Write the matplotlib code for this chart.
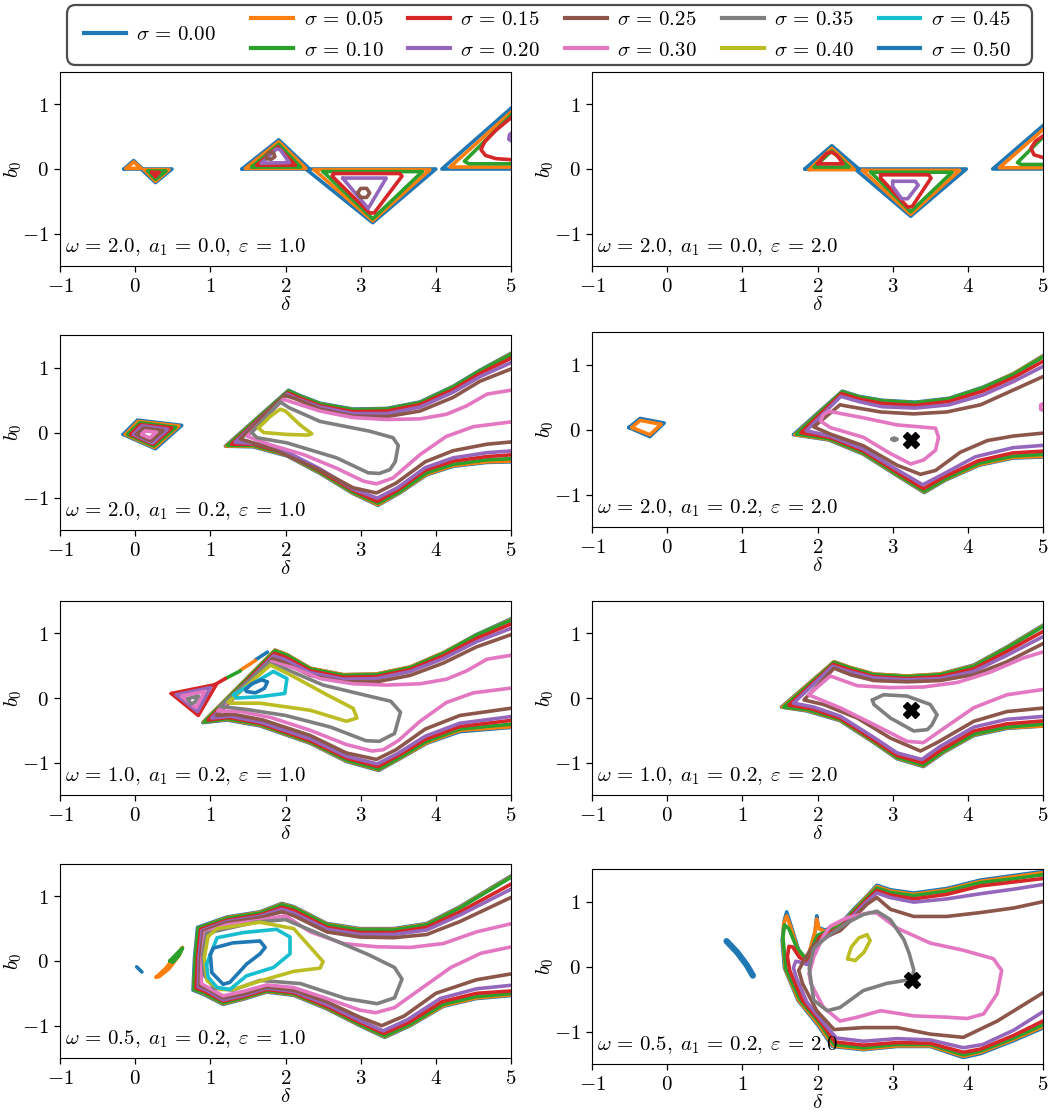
import matplotlib
matplotlib.use('Agg')
import matplotlib.pyplot as plt
from matplotlib.patches import FancyBboxPatch
from matplotlib.lines import Line2D

plt.rcParams['mathtext.fontset'] = 'cm'
plt.rcParams['font.family'] = ['DejaVu Serif']

# ---------------- data ----------------
sigmas = [0.00, 0.05, 0.10, 0.15, 0.20, 0.25, 0.30, 0.35, 0.40, 0.45, 0.50]
sigma_colors = ['#1f77b4', '#ff7f0e', '#2ca02c', '#d62728', '#9467bd', '#8c564b',
                '#e377c2', '#7f7f7f', '#bcbd22', '#17becf', '#1f77b4']
sigma_labels = [r'$\sigma\,=\,%.2f$' % s for s in sigmas]

panel_labels = [
    r'$\omega\,=\,2.0,\;a_1\,=\,0.0,\;\varepsilon\,=\,1.0$',
    r'$\omega\,=\,2.0,\;a_1\,=\,0.0,\;\varepsilon\,=\,2.0$',
    r'$\omega\,=\,2.0,\;a_1\,=\,0.2,\;\varepsilon\,=\,1.0$',
    r'$\omega\,=\,2.0,\;a_1\,=\,0.2,\;\varepsilon\,=\,2.0$',
    r'$\omega\,=\,1.0,\;a_1\,=\,0.2,\;\varepsilon\,=\,1.0$',
    r'$\omega\,=\,1.0,\;a_1\,=\,0.2,\;\varepsilon\,=\,2.0$',
    r'$\omega\,=\,0.5,\;a_1\,=\,0.2,\;\varepsilon\,=\,1.0$',
    r'$\omega\,=\,0.5,\;a_1\,=\,0.2,\;\varepsilon\,=\,2.0$',
]
x_ticks = [-1, 0, 1, 2, 3, 4, 5]
y_ticks = [-1, 0, 1]

# fixed points (black crosses) per panel
fixed_points = [[], [], [], [(3.25, -0.16)], [], [(3.24, -0.19)], [], [(3.26, -0.20)]]

# thick separate blue streak in last panel
streak_r4c2 = [(0.79, 0.39), (0.93, 0.22), (1.06, 0.02), (1.14, -0.14)]

r1c1 = {
    0.00: [[(-0.15, 0.0), (-0.02, 0.13), (0.10, 0.0), (-0.15, 0.0)],
           [(0.08, 0.0), (0.49, 0.0), (0.27, -0.21), (0.08, 0.0)],
           [(1.42, 0.0), (1.91, 0.45), (2.32, 0.0), (1.42, 0.0)],
           [(2.27, 0.0), (4.00, 0.0), (3.16, -0.83), (2.27, 0.0)],
           [(5.05, 0.0), (4.08, 0.0), (5.05, 0.99)]],
    0.05: [[(-0.12, 0.01), (-0.02, 0.11), (0.08, 0.01), (-0.12, 0.01)],
           [(0.12, -0.01), (0.45, -0.01), (0.27, -0.19), (0.12, -0.01)],
           [(1.47, 0.01), (1.91, 0.42), (2.27, 0.01), (1.47, 0.01)],
           [(2.38, -0.01), (3.92, -0.01), (3.16, -0.80), (2.38, -0.01)],
           [(5.05, 0.03), (4.19, 0.03), (5.05, 0.93)]],
    0.10: [[(0.17, -0.03), (0.41, -0.03), (0.27, -0.16), (0.17, -0.03)],
           [(1.55, 0.03), (1.91, 0.38), (2.20, 0.03), (1.55, 0.03)],
           [(2.50, -0.04), (3.82, -0.04), (3.16, -0.77), (2.50, -0.04)],
           [(5.05, 0.08), (4.44, 0.08), (4.38, 0.12), (5.05, 0.89)]],
    0.15: [[(0.22, -0.05), (0.32, -0.05), (0.27, -0.12), (0.22, -0.05)],
           [(1.62, 0.06), (1.90, 0.34), (2.13, 0.06), (1.62, 0.06)],
           [(2.64, -0.07), (3.52, -0.07), (3.55, -0.11), (3.18, -0.68), (3.12, -0.68),
            (2.62, -0.11), (2.64, -0.07)],
           [(5.05, 0.84), (4.80, 0.60), (4.65, 0.42), (4.60, 0.30), (4.66, 0.21),
            (4.80, 0.16), (5.05, 0.14)]],
    0.20: [[(1.68, 0.09), (1.88, 0.31), (1.93, 0.30), (2.05, 0.10), (1.68, 0.09)],
           [(2.76, -0.14), (3.34, -0.14), (3.10, -0.61), (2.76, -0.14)],
           [(5.05, 0.60), (4.98, 0.53), (4.97, 0.46), (5.05, 0.40)]],
    0.25: [[(1.74, 0.20), (1.78, 0.26), (1.84, 0.25), (1.86, 0.19), (1.81, 0.15),
            (1.75, 0.16), (1.74, 0.20)],
           [(2.96, -0.37), (3.00, -0.30), (3.08, -0.30), (3.12, -0.37), (3.08, -0.44),
            (3.00, -0.44), (2.96, -0.37)]],
}

r1c2 = {
    0.00: [[(1.83, 0.0), (2.19, 0.36), (2.55, 0.0), (1.83, 0.0)],
           [(2.50, 0.0), (3.98, 0.0), (3.24, -0.73), (2.50, 0.0)],
           [(5.05, 0.0), (4.33, 0.0), (5.05, 0.72)]],
    0.05: [[(1.89, -0.01), (2.19, 0.32), (2.49, -0.01), (1.89, -0.01)],
           [(2.60, -0.02), (3.89, -0.02), (3.24, -0.70), (2.60, -0.02)],
           [(5.05, 0.02), (4.42, 0.02), (5.05, 0.66)]],
    0.10: [[(1.96, 0.03), (2.19, 0.28), (2.42, 0.03), (1.96, 0.03)],
           [(2.71, -0.05), (3.79, -0.05), (3.24, -0.66), (2.71, -0.05)],
           [(5.05, 0.07), (4.71, 0.07), (4.66, 0.10), (5.05, 0.55)]],
    0.15: [[(2.00, 0.08), (2.12, 0.24), (2.19, 0.26), (2.26, 0.21), (2.34, 0.08), (2.00, 0.08)],
           [(2.84, -0.09), (3.48, -0.09), (3.51, -0.14), (3.26, -0.58), (3.20, -0.59),
            (2.84, -0.14), (2.84, -0.09)],
           [(5.05, 0.55), (4.90, 0.43), (4.84, 0.32), (4.88, 0.22), (5.05, 0.16)]],
    0.20: [[(3.00, -0.19), (3.30, -0.19), (3.34, -0.25), (3.20, -0.46), (3.12, -0.46),
            (3.00, -0.27), (3.00, -0.19)]],
}

r2c1 = {
    0.00: [[(-0.16, -0.03), (0.03, 0.19), (0.62, 0.11), (0.27, -0.25), (-0.16, -0.03)],
           [(5.05, 1.25), (4.59, 0.96), (4.23, 0.71), (3.79, 0.47), (3.35, 0.37), (2.90, 0.36),
            (2.46, 0.45), (2.19, 0.57), (2.04, 0.65), (1.20, -0.21), (1.57, -0.22), (2.02, -0.36),
            (2.46, -0.63), (2.90, -0.94), (3.23, -1.12), (3.52, -0.93), (3.88, -0.65),
            (4.23, -0.52), (4.68, -0.46), (5.05, -0.45)]],
    0.05: [[(-0.13, -0.03), (0.04, 0.17), (0.58, 0.10), (0.26, -0.23), (-0.13, -0.03)],
           [(5.05, 1.24), (4.59, 0.95), (4.23, 0.70), (3.79, 0.46), (3.35, 0.36), (2.90, 0.35),
            (2.46, 0.44), (2.19, 0.56), (2.04, 0.64), (1.21, -0.21), (1.57, -0.21), (2.02, -0.35),
            (2.46, -0.62), (2.90, -0.93), (3.23, -1.11), (3.52, -0.92), (3.88, -0.64),
            (4.23, -0.51), (4.68, -0.45), (5.05, -0.44)]],
    0.10: [[(-0.10, -0.03), (0.06, 0.15), (0.54, 0.08), (0.25, -0.21), (-0.10, -0.03)],
           [(5.05, 1.23), (4.59, 0.95), (4.23, 0.70), (3.79, 0.46), (3.35, 0.36), (2.90, 0.35),
            (2.46, 0.44), (2.19, 0.56), (2.04, 0.64), (1.23, -0.20), (1.57, -0.20), (2.02, -0.34),
            (2.46, -0.61), (2.90, -0.92), (3.23, -1.09), (3.52, -0.91), (3.88, -0.62),
            (4.23, -0.49), (4.68, -0.42), (5.05, -0.40)]],
    0.15: [[(-0.06, -0.03), (0.07, 0.12), (0.485, 0.07), (0.24, -0.18), (-0.06, -0.03)],
           [(5.05, 1.17), (4.59, 0.91), (4.23, 0.66), (3.79, 0.43), (3.35, 0.33), (2.90, 0.32),
            (2.46, 0.41), (2.17, 0.54), (2.03, 0.61), (1.28, -0.18), (1.57, -0.18), (2.02, -0.32),
            (2.46, -0.59), (2.90, -0.89), (3.22, -1.06), (3.50, -0.88), (3.86, -0.58),
            (4.23, -0.44), (4.68, -0.37), (5.05, -0.34)]],
    0.20: [[(-0.02, -0.03), (0.09, 0.10), (0.43, 0.05), (0.23, -0.16), (-0.02, -0.03)],
           [(5.05, 1.10), (4.59, 0.86), (4.23, 0.62), (3.79, 0.39), (3.35, 0.29), (2.90, 0.29),
            (2.46, 0.39), (2.15, 0.52), (2.02, 0.59), (1.33, -0.15), (1.60, -0.17), (2.02, -0.30),
            (2.46, -0.56), (2.90, -0.87), (3.22, -1.01), (3.49, -0.85), (3.86, -0.54),
            (4.23, -0.39), (4.68, -0.31), (5.05, -0.28)]],
    0.25: [[(0.02, -0.03), (0.11, 0.07), (0.37, 0.03), (0.21, -0.13), (0.02, -0.03)],
           [(5.05, 1.00), (4.59, 0.79), (4.23, 0.54), (3.79, 0.33), (3.35, 0.245), (2.90, 0.25),
            (2.46, 0.36), (2.13, 0.52), (1.99, 0.57), (1.40, -0.10), (1.80, -0.24), (2.46, -0.58),
            (2.90, -0.85), (3.21, -0.93), (3.47, -0.78), (3.86, -0.45), (4.23, -0.28),
            (4.68, -0.18), (5.05, -0.14)]],
    0.30: [[(0.09, -0.03), (0.135, 0.025), (0.28, 0.005), (0.195, -0.085), (0.09, -0.03)],
           [(5.05, 0.66), (4.68, 0.59), (4.41, 0.41), (4.14, 0.28), (3.79, 0.21), (3.35, 0.20),
            (2.90, 0.23), (2.46, 0.33), (2.11, 0.46), (1.97, 0.51), (1.49, -0.06), (1.80, -0.19),
            (2.24, -0.34), (2.68, -0.55), (3.04, -0.75), (3.21, -0.79), (3.43, -0.70),
            (3.79, -0.34), (4.14, -0.06), (4.50, 0.09), (5.05, 0.17)]],
    0.35: [[(1.55, 0.0), (1.75, 0.25), (1.93, 0.47), (2.05, 0.38), (2.46, 0.17), (3.12, 0.02),
            (3.43, -0.08), (3.50, -0.20), (3.46, -0.45), (3.39, -0.57), (3.25, -0.63),
            (3.10, -0.62), (2.68, -0.39), (2.02, -0.16), (1.62, -0.08), (1.55, 0.0)]],
    0.40: [[(1.64, 0.07), (1.80, 0.25), (1.93, 0.36), (2.00, 0.33), (2.19, 0.12), (2.35, -0.02),
            (2.30, -0.04), (2.02, -0.03), (1.71, 0.0), (1.64, 0.07)]],
}

r2c2 = {
    0.00: [[(-0.51, 0.03), (-0.36, 0.17), (-0.04, 0.10), (-0.23, -0.11), (-0.51, 0.03)],
           [(5.05, 1.17), (4.61, 0.86), (4.20, 0.65), (3.75, 0.48), (3.30, 0.42), (2.86, 0.45),
            (2.55, 0.51), (2.33, 0.59), (1.68, -0.08), (2.15, -0.16), (2.61, -0.38), (3.06, -0.71),
            (3.42, -0.97), (3.70, -0.78), (4.15, -0.55), (4.60, -0.44), (5.05, -0.42)]],
    0.05: [[(-0.47, 0.03), (-0.36, 0.14), (-0.08, 0.08), (-0.23, -0.08), (-0.47, 0.03)],
           [(5.05, 1.16), (4.61, 0.86), (4.20, 0.64), (3.75, 0.47), (3.30, 0.41), (2.86, 0.44),
            (2.55, 0.50), (2.33, 0.58), (1.70, -0.08), (2.15, -0.15), (2.61, -0.37), (3.06, -0.70),
            (3.42, -0.96), (3.70, -0.77), (4.15, -0.54), (4.60, -0.43), (5.05, -0.41)]],
    0.10: [[(5.05, 1.15), (4.61, 0.85), (4.20, 0.64), (3.75, 0.47), (3.30, 0.41), (2.86, 0.44),
            (2.55, 0.50), (2.33, 0.58), (1.72, -0.07), (2.15, -0.14), (2.61, -0.36), (3.06, -0.69),
            (3.42, -0.95), (3.70, -0.76), (4.15, -0.52), (4.60, -0.41), (5.05, -0.38)]],
    0.15: [[(5.05, 1.08), (4.61, 0.80), (4.20, 0.59), (3.75, 0.43), (3.30, 0.37), (2.86, 0.40),
            (2.55, 0.47), (2.32, 0.55), (1.78, -0.05), (2.16, -0.12), (2.61, -0.33), (3.06, -0.66),
            (3.41, -0.91), (3.68, -0.73), (4.14, -0.48), (4.60, -0.36), (5.05, -0.33)]],
    0.20: [[(5.05, 1.00), (4.61, 0.74), (4.20, 0.53), (3.75, 0.38), (3.30, 0.33), (2.86, 0.35),
            (2.55, 0.43), (2.31, 0.51), (1.85, -0.02), (2.17, -0.10), (2.61, -0.30), (3.06, -0.62),
            (3.40, -0.85), (3.65, -0.70), (4.10, -0.42), (4.60, -0.28), (5.05, -0.24)]],
    0.25: [[(5.05, 0.84), (4.61, 0.61), (4.17, 0.38), (3.72, 0.27), (3.28, 0.24), (2.84, 0.27),
            (2.39, 0.36), (2.30, 0.38), (1.95, 0.04), (2.17, -0.07), (2.61, -0.25), (3.06, -0.55),
            (3.37, -0.69), (3.57, -0.63), (3.90, -0.35), (4.26, -0.17), (4.61, -0.10), (5.05, -0.05)]],
    0.30: [[(2.15, 0.28), (2.61, 0.18), (3.06, 0.07), (3.37, 0.04), (3.57, 0.02), (3.61, -0.12),
            (3.57, -0.32), (3.41, -0.47), (3.24, -0.53), (2.97, -0.37), (2.61, -0.12), (2.17, 0.03),
            (2.04, 0.13), (2.08, 0.23), (2.15, 0.28)],
           [(5.05, 0.42), (4.97, 0.38), (4.97, 0.31), (5.05, 0.28)]],
    0.35: [[(2.99, -0.15), (3.02, -0.13), (3.06, -0.15), (3.02, -0.17), (2.99, -0.15)]],
}

r3c1 = {
    0.00: [[(1.60, 0.59), (1.76, 0.71)],
           [(5.05, 1.25), (4.54, 0.98), (4.10, 0.70), (3.66, 0.48), (3.21, 0.37), (2.77, 0.36),
            (2.33, 0.46), (2.02, 0.67), (1.86, 0.74), (0.90, -0.38), (1.22, -0.34), (1.66, -0.43),
            (2.33, -0.70), (2.81, -0.98), (3.24, -1.12), (3.52, -0.94), (3.88, -0.70),
            (4.32, -0.52), (5.05, -0.45)]],
    0.05: [[(1.40, 0.43), (1.60, 0.58)],
           [(5.05, 1.24), (4.54, 0.97), (4.10, 0.70), (3.66, 0.48), (3.21, 0.37), (2.77, 0.36),
            (2.33, 0.46), (2.02, 0.67), (1.86, 0.74), (0.91, -0.37), (1.22, -0.33), (1.66, -0.42),
            (2.33, -0.69), (2.81, -0.97), (3.24, -1.11), (3.52, -0.93), (3.88, -0.69),
            (4.32, -0.50), (5.05, -0.44)]],
    0.10: [[(1.20, 0.30), (1.40, 0.42)],
           [(5.05, 1.23), (4.54, 0.97), (4.10, 0.69), (3.66, 0.47), (3.21, 0.36), (2.77, 0.35),
            (2.33, 0.45), (2.02, 0.66), (1.86, 0.73), (0.92, -0.37), (1.22, -0.32), (1.66, -0.41),
            (2.33, -0.68), (2.81, -0.96), (3.24, -1.10), (3.52, -0.92), (3.88, -0.67),
            (4.32, -0.48), (5.05, -0.40)]],
    0.15: [[(0.48, 0.07), (1.08, 0.21), (0.84, -0.27), (0.48, 0.07)],
           [(1.05, 0.20), (1.20, 0.30)],
           [(5.05, 1.17), (4.54, 0.92), (4.10, 0.65), (3.66, 0.44), (3.21, 0.33), (2.77, 0.32),
            (2.33, 0.42), (2.00, 0.63), (1.85, 0.69), (0.97, -0.34), (1.24, -0.30), (1.66, -0.39),
            (2.33, -0.66), (2.81, -0.93), (3.23, -1.06), (3.50, -0.89), (3.86, -0.64),
            (4.32, -0.44), (5.05, -0.34)]],
    0.20: [[(0.55, 0.05), (1.00, 0.16), (0.83, -0.21), (0.55, 0.05)],
           [(5.05, 1.10), (4.54, 0.87), (4.10, 0.61), (3.66, 0.41), (3.21, 0.30), (2.77, 0.29),
            (2.33, 0.39), (1.98, 0.60), (1.84, 0.65), (1.02, -0.31), (1.26, -0.28), (1.66, -0.37),
            (2.33, -0.63), (2.81, -0.90), (3.22, -1.02), (3.49, -0.86), (3.86, -0.59),
            (4.32, -0.39), (5.05, -0.28)]],
    0.25: [[(5.05, 1.00), (4.54, 0.79), (4.10, 0.54), (3.66, 0.35), (3.21, 0.25), (2.77, 0.25),
            (2.33, 0.35), (1.96, 0.56), (1.83, 0.61), (1.08, -0.27), (1.30, -0.25), (1.70, -0.34),
            (2.33, -0.58), (2.81, -0.85), (3.21, -0.95), (3.47, -0.80), (3.86, -0.48),
            (4.32, -0.27), (5.05, -0.15)]],
    0.30: [[(0.62, 0.03), (0.92, 0.10), (0.81, -0.15), (0.62, 0.03)],
           [(5.05, 0.67), (4.68, 0.60), (4.41, 0.42), (4.14, 0.29), (3.79, 0.22), (3.35, 0.20),
            (2.90, 0.22), (2.46, 0.30), (2.10, 0.47), (1.81, 0.56), (1.10, -0.20), (1.40, -0.21),
            (1.80, -0.30), (2.33, -0.50), (2.81, -0.72), (3.15, -0.82), (3.30, -0.80),
            (3.50, -0.66), (3.79, -0.36), (4.14, -0.07), (4.50, 0.08), (5.05, 0.16)]],
    0.35: [[(0.70, -0.01), (0.84, 0.03), (0.79, -0.07), (0.74, -0.09), (0.70, -0.01)],
           [(1.13, -0.13), (1.77, 0.54), (2.00, 0.45), (2.50, 0.20), (3.00, 0.06), (3.40, -0.05),
            (3.53, -0.22), (3.45, -0.55), (3.25, -0.67), (3.07, -0.66), (2.60, -0.45),
            (2.00, -0.27), (1.50, -0.18), (1.13, -0.13)]],
    0.40: [[(1.24, -0.06), (1.80, 0.51), (2.11, 0.33), (2.55, 0.05), (2.90, -0.16), (2.95, -0.31),
            (2.81, -0.36), (2.33, -0.19), (1.66, -0.08), (1.26, -0.08), (1.24, -0.06)]],
    0.45: [[(1.31, 0.05), (1.84, 0.41), (2.02, 0.30), (1.99, 0.07), (1.66, 0.02), (1.35, 0.00),
            (1.31, 0.05)]],
    0.50: [[(1.47, 0.13), (1.55, 0.22), (1.68, 0.28), (1.76, 0.25), (1.72, 0.15), (1.60, 0.08),
            (1.48, 0.10), (1.47, 0.13)]],
}

r3c2 = {
    0.00: [[(5.05, 1.16), (4.52, 0.79), (4.08, 0.51), (3.63, 0.37), (3.19, 0.34), (2.75, 0.37),
            (2.44, 0.47), (2.22, 0.56), (1.52, -0.14), (1.86, -0.20), (2.30, -0.35), (2.75, -0.69),
            (3.06, -0.94), (3.41, -1.06), (3.68, -0.84), (4.08, -0.58), (4.52, -0.47), (5.05, -0.43)]],
    0.05: [[(5.05, 1.15), (4.52, 0.78), (4.08, 0.50), (3.63, 0.37), (3.19, 0.34), (2.75, 0.37),
            (2.44, 0.47), (2.22, 0.56), (1.53, -0.14), (1.86, -0.19), (2.30, -0.34), (2.75, -0.68),
            (3.06, -0.93), (3.41, -1.05), (3.68, -0.83), (4.08, -0.57), (4.52, -0.46), (5.05, -0.43)]],
    0.10: [[(5.05, 1.14), (4.52, 0.77), (4.08, 0.49), (3.63, 0.36), (3.19, 0.33), (2.75, 0.36),
            (2.44, 0.46), (2.22, 0.55), (1.55, -0.14), (1.86, -0.18), (2.30, -0.33), (2.75, -0.67),
            (3.06, -0.92), (3.41, -1.04), (3.68, -0.82), (4.08, -0.56), (4.52, -0.45), (5.05, -0.40)]],
    0.15: [[(5.05, 1.06), (4.52, 0.72), (4.08, 0.45), (3.63, 0.33), (3.19, 0.30), (2.75, 0.33),
            (2.44, 0.43), (2.21, 0.52), (1.62, -0.11), (1.90, -0.16), (2.30, -0.31), (2.75, -0.65),
            (3.06, -0.89), (3.40, -1.00), (3.66, -0.79), (4.08, -0.51), (4.52, -0.40), (5.05, -0.35)]],
    0.20: [[(5.05, 0.98), (4.52, 0.66), (4.08, 0.41), (3.63, 0.30), (3.19, 0.28), (2.75, 0.31),
            (2.44, 0.40), (2.20, 0.49), (1.68, -0.08), (1.95, -0.14), (2.30, -0.28), (2.75, -0.61),
            (3.06, -0.85), (3.39, -0.95), (3.63, -0.75), (4.08, -0.45), (4.52, -0.33), (5.05, -0.28)]],
    0.25: [[(5.05, 0.87), (4.52, 0.56), (4.08, 0.36), (3.63, 0.27), (3.19, 0.25), (2.75, 0.27),
            (2.44, 0.36), (2.22, 0.46), (1.82, -0.03), (2.08, -0.10), (2.53, -0.31), (2.97, -0.62),
            (3.37, -0.82), (3.59, -0.69), (4.08, -0.36), (4.52, -0.21), (5.05, -0.15)]],
    0.30: [[(5.05, 0.73), (4.74, 0.62), (4.30, 0.40), (3.86, 0.24), (3.41, 0.17), (2.97, 0.16),
            (2.53, 0.19), (2.17, 0.34), (1.88, 0.05), (2.30, -0.15), (2.75, -0.41), (3.19, -0.67),
            (3.41, -0.69), (3.63, -0.51), (4.08, -0.15), (4.52, 0.05), (5.05, 0.14)]],
    0.35: [[(2.73, -0.03), (2.88, 0.05), (3.19, 0.03), (3.50, -0.10), (3.59, -0.26), (3.52, -0.42),
            (3.46, -0.49), (3.28, -0.51), (2.97, -0.31), (2.75, -0.10), (2.73, -0.03)]],
}

r4c1 = {
    0.00: [[(0.02, -0.09), (0.09, -0.17)],
           [(5.05, 1.35), (4.32, 0.84), (3.88, 0.58), (3.44, 0.50), (2.99, 0.50), (2.55, 0.58),
            (2.11, 0.84), (1.95, 0.89), (1.66, 0.76), (1.22, 0.68), (0.83, 0.52), (0.79, 0.05),
            (0.77, -0.45), (0.90, -0.51), (1.17, -0.67), (1.44, -0.59), (1.75, -0.48),
            (2.11, -0.53), (2.55, -0.74), (2.99, -1.00), (3.32, -1.18), (3.66, -1.00),
            (4.10, -0.70), (4.54, -0.58), (5.05, -0.53)]],
    0.05: [[(0.28, -0.25), (0.40, -0.12), (0.52, 0.05), (0.63, 0.21), (0.58, 0.08), (0.45, -0.12),
            (0.32, -0.24), (0.28, -0.25)],
           [(5.05, 1.34), (4.32, 0.83), (3.88, 0.57), (3.44, 0.49), (2.99, 0.49), (2.55, 0.57),
            (2.11, 0.83), (1.95, 0.88), (1.66, 0.75), (1.22, 0.67), (0.84, 0.51), (0.80, 0.05),
            (0.78, -0.44), (0.91, -0.50), (1.17, -0.66), (1.44, -0.58), (1.75, -0.47),
            (2.11, -0.52), (2.55, -0.73), (2.99, -0.99), (3.32, -1.17), (3.66, -0.99),
            (4.10, -0.69), (4.54, -0.57), (5.05, -0.52)]],
    0.10: [[(0.46, 0.00), (0.56, 0.12), (0.63, 0.20), (0.58, 0.08), (0.50, -0.02), (0.46, 0.00)],
           [(5.05, 1.33), (4.32, 0.82), (3.88, 0.56), (3.44, 0.48), (2.99, 0.48), (2.55, 0.56),
            (2.11, 0.82), (1.95, 0.87), (1.66, 0.74), (1.22, 0.66), (0.84, 0.51), (0.80, 0.05),
            (0.78, -0.44), (0.91, -0.49), (1.17, -0.65), (1.44, -0.57), (1.75, -0.46),
            (2.11, -0.51), (2.55, -0.72), (2.99, -0.98), (3.32, -1.16), (3.66, -0.98),
            (4.10, -0.67), (4.54, -0.55), (5.05, -0.50)]],
    0.15: [[(5.05, 1.22), (4.32, 0.76), (3.88, 0.52), (3.44, 0.44), (2.99, 0.44), (2.55, 0.52),
            (2.11, 0.78), (1.95, 0.83), (1.66, 0.71), (1.22, 0.63), (0.87, 0.49), (0.83, 0.05),
            (0.81, -0.42), (0.93, -0.47), (1.17, -0.62), (1.44, -0.55), (1.75, -0.44),
            (2.11, -0.49), (2.55, -0.70), (2.99, -0.95), (3.31, -1.12), (3.64, -0.95),
            (4.08, -0.63), (4.54, -0.50), (5.05, -0.46)]],
    0.20: [[(5.05, 1.14), (4.32, 0.71), (3.88, 0.48), (3.44, 0.41), (2.99, 0.41), (2.55, 0.49),
            (2.11, 0.74), (1.95, 0.80), (1.66, 0.69), (1.22, 0.61), (0.89, 0.47), (0.85, 0.05),
            (0.84, -0.40), (0.95, -0.45), (1.17, -0.60), (1.44, -0.53), (1.75, -0.42),
            (2.11, -0.47), (2.55, -0.67), (2.99, -0.92), (3.30, -1.08), (3.62, -0.91),
            (4.06, -0.58), (4.54, -0.43), (5.05, -0.37)]],
    0.25: [[(5.05, 1.01), (4.32, 0.61), (3.88, 0.41), (3.44, 0.36), (2.99, 0.37), (2.55, 0.45),
            (2.11, 0.70), (1.95, 0.76), (1.66, 0.67), (1.22, 0.59), (0.91, 0.46), (0.87, 0.05),
            (0.86, -0.38), (0.97, -0.43), (1.17, -0.57), (1.44, -0.51), (1.75, -0.40),
            (2.11, -0.45), (2.55, -0.63), (2.99, -0.87), (3.28, -1.00), (3.58, -0.85),
            (4.00, -0.50), (4.54, -0.29), (5.05, -0.19)]],
    0.30: [[(5.05, 0.59), (4.54, 0.45), (4.10, 0.27), (3.66, 0.21), (3.21, 0.22), (2.77, 0.27),
            (2.33, 0.45), (2.00, 0.70), (1.66, 0.63), (1.22, 0.56), (0.93, 0.44), (0.89, 0.05),
            (0.88, -0.35), (1.17, -0.54), (1.44, -0.47), (1.75, -0.37), (2.11, -0.41),
            (2.55, -0.58), (2.99, -0.76), (3.20, -0.80), (3.45, -0.72), (3.80, -0.43),
            (4.20, -0.10), (4.60, 0.12), (5.05, 0.23)]],
    0.35: [[(0.95, 0.43), (1.60, 0.60), (2.00, 0.64), (2.55, 0.37), (3.10, 0.10), (3.45, -0.10),
            (3.55, -0.28), (3.45, -0.57), (3.22, -0.66), (2.80, -0.58), (2.20, -0.35),
            (1.66, -0.30), (1.30, -0.45), (1.05, -0.42), (0.92, -0.22), (0.90, 0.10), (0.95, 0.43)]],
    0.40: [[(0.97, 0.38), (1.09, 0.50), (1.66, 0.60), (2.11, 0.50), (2.50, -0.01), (2.46, -0.11),
            (2.11, -0.16), (1.66, -0.31), (1.31, -0.44), (1.13, -0.44), (0.96, -0.31),
            (0.92, 0.05), (0.97, 0.38)]],
    0.45: [[(0.95, -0.05), (1.09, 0.36), (1.44, 0.44), (1.88, 0.49), (2.06, 0.37), (2.06, 0.11),
            (1.84, -0.10), (1.48, -0.23), (1.26, -0.44), (1.09, -0.41), (0.97, -0.25),
            (0.95, -0.05)]],
    0.50: [[(1.00, 0.10), (1.04, 0.20), (1.30, 0.28), (1.66, 0.31), (1.73, 0.21), (1.66, 0.11),
            (1.48, -0.05), (1.26, -0.33), (1.17, -0.36), (1.02, -0.18), (1.00, 0.10)]],
}

r4c2 = {
    0.00: [[(5.05, 1.47), (4.61, 1.40), (4.17, 1.33), (3.72, 1.20), (3.28, 1.13), (2.97, 1.18),
            (2.79, 1.25), (2.66, 1.09), (2.48, 0.88), (2.30, 0.65), (2.10, 0.56), (2.01, 0.60),
            (1.99, 0.78), (1.97, 0.55), (1.90, 0.25), (1.84, 0.08), (1.75, 0.25), (1.65, 0.62),
            (1.59, 0.84), (1.56, 0.72), (1.53, 0.40), (1.56, -0.02), (1.74, -0.52), (2.01, -0.91),
            (2.20, -1.23), (2.61, -1.28), (3.06, -1.23), (3.50, -1.23), (3.94, -1.40),
            (4.17, -1.34), (4.61, -1.14), (5.05, -0.92)]],
    0.05: [[(5.05, 1.45), (4.61, 1.38), (4.17, 1.31), (3.72, 1.18), (3.28, 1.11), (2.97, 1.16),
            (2.79, 1.23), (2.66, 1.08), (2.48, 0.86), (2.30, 0.63), (2.10, 0.54), (2.02, 0.58),
            (1.99, 0.73), (1.96, 0.50), (1.89, 0.22), (1.85, 0.09), (1.74, 0.25), (1.65, 0.58),
            (1.59, 0.78), (1.55, 0.66), (1.54, 0.38), (1.57, -0.03), (1.75, -0.52), (2.02, -0.90),
            (2.21, -1.22), (2.61, -1.27), (3.06, -1.22), (3.50, -1.22), (3.94, -1.38),
            (4.17, -1.32), (4.61, -1.12), (5.05, -0.90)]],
    0.10: [[(5.05, 1.42), (4.61, 1.35), (4.17, 1.29), (3.72, 1.16), (3.28, 1.09), (2.97, 1.14),
            (2.79, 1.21), (2.66, 1.06), (2.48, 0.85), (2.30, 0.62), (2.08, 0.52), (2.00, 0.48),
            (1.94, 0.32), (1.86, 0.10), (1.72, 0.30), (1.62, 0.58), (1.56, 0.64), (1.54, 0.45),
            (1.58, -0.04), (1.77, -0.52), (2.04, -0.89), (2.22, -1.20), (2.61, -1.25),
            (3.06, -1.20), (3.50, -1.20), (3.94, -1.36), (4.17, -1.30), (4.61, -1.10),
            (5.05, -0.87)]],
    0.15: [[(5.05, 1.36), (4.61, 1.30), (4.17, 1.24), (3.72, 1.11), (3.28, 1.04), (2.97, 1.10),
            (2.79, 1.17), (2.66, 1.03), (2.48, 0.82), (2.30, 0.59), (2.08, 0.49), (2.02, 0.44),
            (1.96, 0.27), (1.87, 0.06), (1.76, 0.14), (1.67, 0.30), (1.62, 0.31), (1.60, 0.15),
            (1.63, -0.06), (1.80, -0.52), (2.06, -0.88), (2.23, -1.16), (2.61, -1.21),
            (3.06, -1.17), (3.50, -1.18), (3.94, -1.32), (4.17, -1.27), (4.61, -1.06),
            (5.05, -0.81)]],
    0.20: [[(5.05, 1.27), (4.61, 1.19), (4.17, 1.12), (3.72, 1.04), (3.28, 0.99), (2.97, 1.06),
            (2.79, 1.13), (2.66, 1.00), (2.48, 0.79), (2.30, 0.56), (2.10, 0.44), (2.03, 0.38),
            (1.97, 0.20), (1.86, 0.03), (1.76, 0.07), (1.71, 0.08), (1.68, -0.02), (1.72, -0.18),
            (1.86, -0.55), (2.09, -0.88), (2.25, -1.10), (2.61, -1.15), (3.06, -1.11),
            (3.50, -1.13), (3.94, -1.25), (4.20, -1.20), (4.61, -0.98), (5.05, -0.66)]],
    0.25: [[(5.05, 1.01), (4.61, 0.90), (4.17, 0.83), (3.72, 0.77), (3.28, 0.77), (2.97, 0.88),
            (2.79, 1.06), (2.66, 0.96), (2.48, 0.75), (2.30, 0.55), (2.08, 0.45), (1.95, 0.33),
            (1.82, 0.10), (1.75, -0.06), (1.80, -0.26), (1.99, -0.68), (2.22, -0.97),
            (2.61, -0.94), (3.06, -0.94), (3.50, -1.04), (3.94, -1.09), (4.39, -0.84),
            (5.05, -0.37)]],
    0.30: [[(1.89, -0.11), (1.95, 0.15), (2.08, 0.47), (2.17, 0.62), (2.39, 0.75), (2.70, 0.83),
            (2.79, 0.82), (3.06, 0.59), (3.50, 0.36), (3.94, 0.25), (4.34, 0.12), (4.45, -0.06),
            (4.39, -0.42), (4.21, -0.73), (3.99, -0.80), (3.72, -0.78), (3.28, -0.76),
            (2.84, -0.68), (2.53, -0.78), (2.30, -0.84), (2.08, -0.63), (1.91, -0.26),
            (1.89, -0.11)]],
    0.35: [[(3.26, -0.20), (3.28, -0.05), (3.22, 0.20), (3.15, 0.41), (2.97, 0.72), (2.79, 0.85),
            (2.61, 0.80), (2.39, 0.67), (2.15, 0.48), (1.95, 0.28), (1.89, -0.03), (1.95, -0.52),
            (2.13, -0.68), (2.30, -0.63), (2.61, -0.37), (2.92, -0.26), (3.24, -0.20)]],
    0.40: [[(2.40, 0.12), (2.45, 0.30), (2.55, 0.44), (2.66, 0.49), (2.70, 0.40), (2.62, 0.22),
            (2.50, 0.09), (2.40, 0.12)]],
}

panels = [r1c1, r1c2, r2c1, r2c2, r3c1, r3c2, r4c1, r4c2]

# ---------------- layout ----------------
W, H = 1048, 1116
fig = plt.figure(figsize=(W / 100, H / 100), dpi=100)

col_x = [(60, 511), (592, 1043)]
row_y = [[(72, 266), (72, 266)], [(335, 530), (332, 527)],
         [(601, 795), (601, 795)], [(864, 1058), (869, 1064)]]

axes = []
for r in range(4):
    for c in range(2):
        x0, x1 = col_x[c]
        t, b = row_y[r][c]
        ax = fig.add_axes([x0 / W, 1 - b / H, (x1 - x0) / W, (b - t) / H])
        axes.append(ax)

LW = 2.6
for i, ax in enumerate(axes):
    data = panels[i]
    for s, col in zip(sigmas, sigma_colors):
        for curve in data.get(s, []):
            xs = [p[0] for p in curve]
            ys = [p[1] for p in curve]
            ax.plot(xs, ys, color=col, lw=LW, solid_joinstyle='round',
                    solid_capstyle='round')
    if i == 7:
        ax.plot([p[0] for p in streak_r4c2], [p[1] for p in streak_r4c2],
                color=sigma_colors[0], lw=4.5, solid_capstyle='round')
    for (fx, fy) in fixed_points[i]:
        ax.plot([fx], [fy], marker='X', color='k', ms=11, ls='none', zorder=20)
    ax.set_xlim(-1, 5)
    ax.set_ylim(-1.5, 1.5)
    ax.set_xticks(x_ticks)
    ax.set_xticklabels([r'$%d$' % v for v in x_ticks])
    ax.set_yticks(y_ticks)
    ax.set_yticklabels([r'$%d$' % v for v in y_ticks])
    ax.tick_params(labelsize=15, length=4.5, width=0.9)
    ax.set_xlabel(r'$\delta$', fontsize=15, labelpad=-1)
    ax.set_ylabel(r'$b_0$', fontsize=15)
    ax.yaxis.set_label_coords(-0.08, 0.5)
    ax.text(0.012, 0.04, panel_labels[i], transform=ax.transAxes, fontsize=15,
            ha='left', va='bottom', zorder=30)

# ---------------- legend ----------------
handles = [Line2D([], [], color=c, lw=3) for c in sigma_colors]
box = FancyBboxPatch((67 / W, 1 - 65 / H), (1032 - 67) / W, 60 / H,
                     boxstyle='round,pad=0,rounding_size=0.008',
                     transform=fig.transFigure, fc='white', ec='0.3', lw=1.6,
                     zorder=0)
fig.patches.append(box)
legA = fig.legend([handles[0]], [sigma_labels[0]], loc='center left',
                  bbox_to_anchor=(74 / W, 1 - 35 / H), frameon=False, fontsize=15,
                  handlelength=2.0, handletextpad=0.5, borderpad=0.0)
legB = fig.legend(handles[1:], sigma_labels[1:], ncol=5, loc='center',
                  bbox_to_anchor=(631 / W, 1 - 35 / H), frameon=False, fontsize=15,
                  handlelength=2.0, handletextpad=0.5, columnspacing=1.2,
                  labelspacing=0.55, borderpad=0.0)

fig.savefig('out.png', dpi=100)
